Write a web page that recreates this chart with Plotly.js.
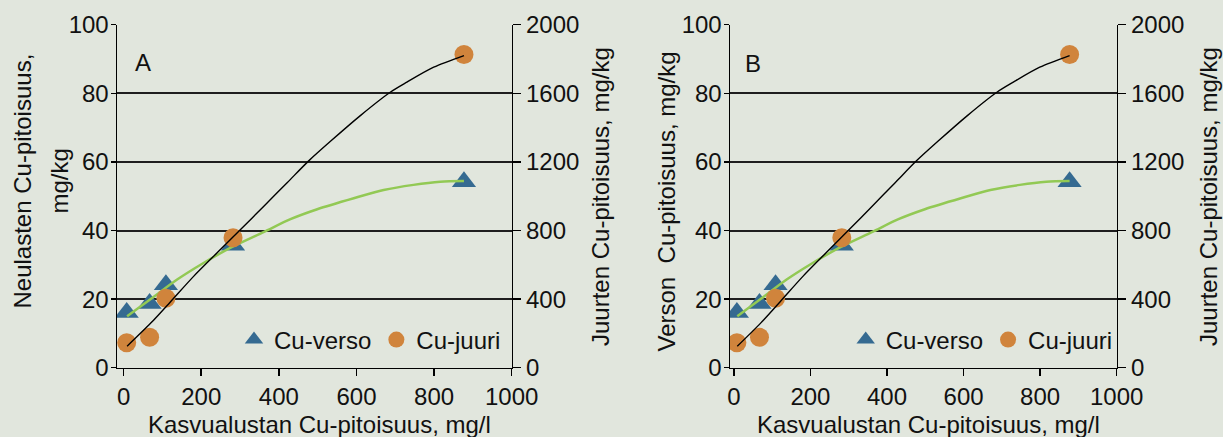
<!DOCTYPE html>
<html>
<head>
<meta charset="utf-8">
<script src="https://cdn.plot.ly/plotly-3.0.1.min.js"></script>
<style>
  html, body { margin: 0; padding: 0; background: #e1e6dd; }
  #chart { width: 1223px; height: 437px; }
</style>
</head>
<body>
<div id="chart"></div>
<script>
// ---- Data ----
const xVals = [8, 67, 109, 282, 877];                 // Kasvualustan Cu-pitoisuus, mg/l
const versoVals = [16.1, 18.7, 24.2, 35.7, 54.2];     // Cu-verso, left axis (mg/kg)
const juuriVals = [146, 177, 405, 758, 1826];         // Cu-juuri, right axis (mg/kg)

const versoFitX = [9, 70, 138, 207, 276, 362, 430, 499, 593, 670, 747, 816, 877];
const versoFitY = [15, 20, 25.7, 30.6, 35, 39.6, 43.3, 46.2, 49.4, 51.8, 53.3, 54.2, 54.4];
const juuriFitX = [9, 70, 121, 181, 241, 302, 362, 422, 477, 533, 610, 687, 730, 799, 877];
const juuriFitY = [125, 260, 385, 534, 670, 807, 943, 1080, 1206, 1320, 1470, 1606, 1665, 1752, 1820];

const seriesNames = ['Cu-verso', 'Cu-juuri'];
const panelLabels = ['A', 'B'];
const leftTitleA = ['Neulasten Cu-pitoisuus,', 'mg/kg'];
const leftTitleB = 'Verson\u00a0 Cu-pitoisuus, mg/kg';
const rightTitle = 'Juurten Cu-pitoisuus, mg/kg';
const xTitle = 'Kasvualustan Cu-pitoisuus, mg/l';
const xTicks = [0, 200, 400, 600, 800, 1000];
const yLeftTicks = [0, 20, 40, 60, 80, 100];
const yRightTicks = [0, 400, 800, 1200, 1600, 2000];

// ---- Styling ----
const BG = '#e1e6dd';
const BLUE = '#356a91';
const ORANGE = '#d0843c';
const GREEN = '#92c954';
const FONT = 'Liberation Sans, Arial, sans-serif';
const FS = 24;

function panelTraces(xa, yl, yr, legendId) {
  return [
    { x: xVals, y: versoVals, xaxis: xa, yaxis: yl, type: 'scatter', mode: 'markers',
      name: seriesNames[0], legend: legendId, showlegend: true,
      marker: { symbol: 'triangle-up', size: 21, color: BLUE } },
    { x: versoFitX, y: versoFitY, xaxis: xa, yaxis: yl, type: 'scatter', mode: 'lines',
      showlegend: false, hoverinfo: 'skip',
      line: { color: GREEN, width: 2.5, shape: 'spline', smoothing: 0.8 } },
    { x: xVals, y: juuriVals, xaxis: xa, yaxis: yr, type: 'scatter', mode: 'markers',
      name: seriesNames[1], legend: legendId, showlegend: true,
      marker: { symbol: 'circle', size: 19, color: ORANGE } },
    { x: juuriFitX, y: juuriFitY, xaxis: xa, yaxis: yr, type: 'scatter', mode: 'lines',
      showlegend: false, hoverinfo: 'skip',
      line: { color: '#000000', width: 1.4, shape: 'spline', smoothing: 0.8 } }
  ];
}

const data = [].concat(
  panelTraces('x', 'y', 'y2', 'legend'),
  panelTraces('x2', 'y3', 'y4', 'legend2')
);

const W = 1223, H = 437;
const px = v => v / W;
const py = v => (H - v) / H;
const yDom = [py(367.7), py(24.7)];

function xAxis(domain, left, anchor) {
  return {
    domain: domain, anchor: anchor, range: [left, 1000],
    tickmode: 'array', tickvals: xTicks, ticktext: xTicks.map(String),
    showgrid: false, zeroline: false,
    showline: true, linecolor: '#000', linewidth: 1.5,
    ticks: 'outside', ticklen: 7, tickwidth: 1.5, tickcolor: '#000',
    tickfont: { family: FONT, size: FS, color: '#111' }
  };
}
function yLeft(anchor) {
  return {
    domain: yDom, anchor: anchor, range: [0, 100],
    tickmode: 'array', tickvals: yLeftTicks, ticktext: yLeftTicks.map(String),
    showgrid: true, gridcolor: '#1e1e1e', gridwidth: 2, zeroline: false,
    showline: true, linecolor: '#000', linewidth: 1.5,
    ticks: 'outside', ticklen: 5, tickwidth: 1.5, tickcolor: '#000',
    ticklabelstandoff: -3,
    tickfont: { family: FONT, size: FS, color: '#111' }
  };
}
function yRight(anchor, over) {
  return {
    domain: yDom, anchor: anchor, overlaying: over, side: 'right', range: [0, 2000],
    tickmode: 'array', tickvals: yRightTicks, ticktext: yRightTicks.map(String),
    showgrid: false, zeroline: false,
    showline: true, linecolor: '#000', linewidth: 1.5,
    ticks: 'outside', ticklen: 8, tickwidth: 1.5, tickcolor: '#000',
    tickfont: { family: FONT, size: FS, color: '#111' }
  };
}

function ann(text, x, y, angle, extra) {
  return Object.assign({
    text: text, xref: 'paper', yref: 'paper', x: x, y: y,
    xanchor: 'center', yanchor: 'middle', showarrow: false, textangle: angle || 0,
    font: { family: FONT, size: FS, color: '#111' }
  }, extra || {});
}

const annotations = [
  ann(panelLabels[0], px(142.5), py(63)),
  ann(panelLabels[1], px(752.5), py(63.5)),
  ann(leftTitleA[0], px(22), py(181.5), -90),
  ann(leftTitleA[1], px(59), py(181.5), -90),
  ann(leftTitleB, px(666), py(201.5), -90),
  ann(rightTitle, px(600), py(197), -90),
  ann(rightTitle, px(1208), py(197), -90),
  ann(xTitle, px(319), py(424.6)),
  ann(xTitle, px(928), py(424.6))
];

const legendBase = {
  orientation: 'h', xanchor: 'left', yanchor: 'middle',
  bgcolor: 'rgba(0,0,0,0)', borderwidth: 0,
  font: { family: FONT, size: FS, color: '#111' }, traceorder: 'normal'
};

const layout = {
  width: W, height: H,
  margin: { l: 0, r: 0, t: 0, b: 0 },
  paper_bgcolor: BG, plot_bgcolor: BG,
  font: { family: FONT, size: FS, color: '#111' },
  xaxis: xAxis([px(117), px(511.7)], -17, 'y'),
  yaxis: yLeft('x'),
  yaxis2: yRight('x', 'y'),
  xaxis2: xAxis([px(730), px(1116.7)], -10, 'y3'),
  yaxis3: yLeft('x2'),
  yaxis4: yRight('x2', 'y3'),
  legend: Object.assign({}, legendBase, { x: px(234), y: py(340) }),
  legend2: Object.assign({}, legendBase, { x: px(845.7), y: py(340) }),
  annotations: annotations,
  showlegend: true
};

Plotly.newPlot('chart', data, layout, { staticPlot: true, displayModeBar: false });
</script>
</body>
</html>
